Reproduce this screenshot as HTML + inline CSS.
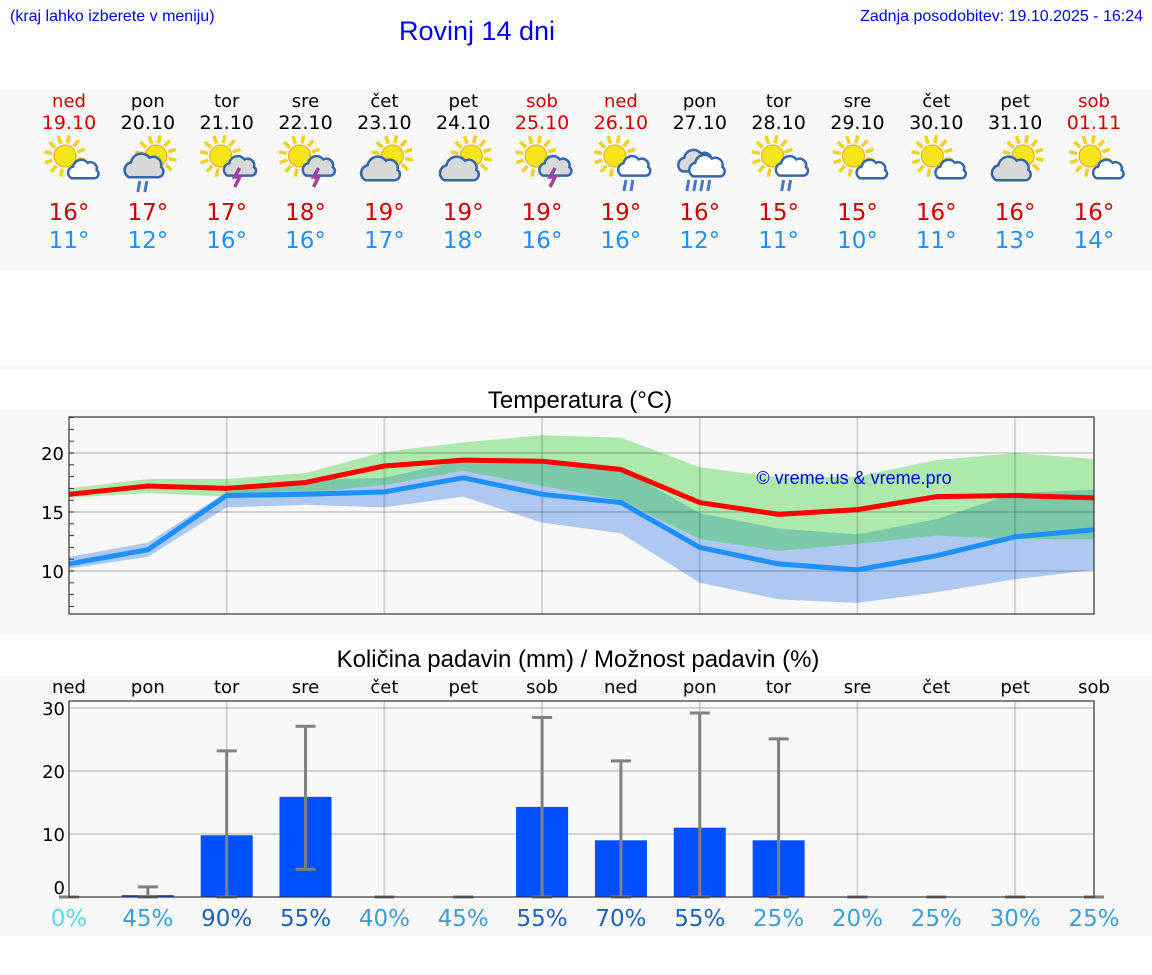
<!DOCTYPE html>
<html><head><meta charset="utf-8">
<style>
body{margin:0;background:#fff;width:1152px;height:975px;overflow:hidden;}
svg{display:block;}
</style></head>
<body>
<svg id="root" width="1152" height="975" xmlns="http://www.w3.org/2000/svg">
<rect x="0" y="90" width="1152" height="180" fill="#f8f8f8"/>
<rect x="0" y="365" width="1152" height="5" fill="#f8f8f8"/>
<rect x="0" y="410" width="1152" height="225" fill="#f8f8f8"/>
<rect x="0" y="675" width="1152" height="260" fill="#f8f8f8"/>
<text x="10" y="21" font-family="Liberation Sans, sans-serif" font-size="16" fill="#0000ee">(kraj lahko izberete v meniju)</text>
<text x="477" y="40" text-anchor="middle" font-family="Liberation Sans, sans-serif" font-size="27" fill="#0000ee">Rovinj 14 dni</text>
<text x="1143" y="21" text-anchor="end" font-family="Liberation Sans, sans-serif" font-size="16" fill="#0000ee">Zadnja posodobitev: 19.10.2025 - 16:24</text>
<g id="days"></g>
<text x="580" y="408" text-anchor="middle" font-family="Liberation Sans, sans-serif" font-size="24" fill="#000">Temperatura (°C)</text>
<g id="temp"></g>
<text x="578" y="667" text-anchor="middle" font-family="Liberation Sans, sans-serif" font-size="24" fill="#000">Količina padavin (mm) / Možnost padavin (%)</text>
<g id="prec"></g>
</svg>
<script>
const dayNames=["ned","pon","tor","sre","čet","pet","sob","ned","pon","tor","sre","čet","pet","sob"];
const dates=["19.10","20.10","21.10","22.10","23.10","24.10","25.10","26.10","27.10","28.10","29.10","30.10","31.10","01.11"];
const weekend=[1,0,0,0,0,0,1,1,0,0,0,0,0,1];
const iconTypes=["sc","sgr","st","st","sg","sg","st","sr","or","sr","sc","sc","sg","sc"];
const maxT=[16,17,17,18,19,19,19,19,16,15,15,16,16,16];
const minT=[11,12,16,16,17,18,16,16,12,11,10,11,13,14];
const tMax=[16.5,17.2,17.0,17.5,18.9,19.4,19.3,18.6,15.8,14.8,15.2,16.3,16.4,16.2];
const tMin=[10.6,11.8,16.4,16.5,16.7,17.9,16.5,15.8,12.0,10.6,10.1,11.3,12.9,13.5];
const gUp=[17.0,17.8,17.8,18.3,20.1,20.9,21.5,21.3,18.8,17.9,18.0,19.4,20.0,19.5];
const gLo=[16.2,16.6,16.3,16.6,17.3,18.5,17.2,16.0,12.7,11.7,12.3,13.0,12.7,12.7];
const bUp=[11.2,12.4,16.7,17.7,17.9,19.4,19.2,18.7,14.9,13.6,13.1,14.4,16.6,16.9];
const bLo=[10.2,11.2,15.4,15.6,15.4,16.3,14.1,13.2,9.0,7.6,7.3,8.2,9.3,10.1];
const tTicks=[10,15,20];
const rain=[0,0.3,9.8,15.9,0,0,14.3,9.0,11.0,9.0,0,0,0,0];
const rainHi=[0,1.6,23.2,27.1,0,0,28.5,21.6,29.2,25.1,0,0,0,0];
const rainLo=[0,0,0,4.4,0,0,0,0,0,0,0,0,0,0];
const chance=[0,45,90,55,40,45,55,70,55,25,20,25,30,25];
const pTicks=[0,10,20,30];
const NS="http://www.w3.org/2000/svg";
function mk(tag,attrs,parent,txt){const e=document.createElementNS(NS,tag);for(const k in attrs)e.setAttribute(k,attrs[k]);if(txt!==undefined)e.textContent=txt;parent.appendChild(e);return e;}
const X=i=>69+i*(1025/13);
const F='DejaVu Sans, Liberation Sans, sans-serif';
const days=document.getElementById('days');
function sun(g,cx,cy,r){for(let a=0;a<12;a++){const an=a*Math.PI/6+0.2;const l=mk('line',{x1:cx+Math.cos(an)*(r+2),y1:cy+Math.sin(an)*(r+2),x2:cx+Math.cos(an)*(r+10),y2:cy+Math.sin(an)*(r+10),stroke:'#f0d020','stroke-width':3.5},g);}
const c=mk('circle',{cx:cx,cy:cy,r:r,fill:'#f5e51a',stroke:'#f0a020','stroke-width':1},g);}
function cloud(g,cx,cy,s,fill){const p=mk('path',{d:`M${cx-14*s},${cy+8*s} a${7*s},${7*s} 0 0 1 ${2*s},${-13*s} a${9*s},${9*s} 0 0 1 ${16*s},${-4*s} a${7*s},${7*s} 0 0 1 ${10*s},${8*s} a${5*s},${5*s} 0 0 1 ${-2*s},${9*s} z`,fill:fill,stroke:'#3366aa','stroke-width':2.5},g);}
function drops(g,cx,cy,n){for(let k=0;k<n;k++){const l=mk('line',{x1:cx+k*7+2,y1:cy,x2:cx+k*7,y2:cy+11,stroke:'#4a78c0','stroke-width':3},g);}}
for(let i=0;i<14;i++){
 const x=X(i);const col=weekend[i]?'#cc0000':'#000';
 const g=mk('g',{},days);
 let t=mk('text',{x:x,y:107,'text-anchor':'middle','font-family':F,'font-size':18,fill:col},g,dayNames[i]);
 t=mk('text',{x:x,y:129,'text-anchor':'middle','font-family':F,'font-size':19,fill:col},g,dates[i]);
 const ig=mk('g',{},g);
 const ty=iconTypes[i];
 if(ty==='sc'){sun(ig,x-4,156,11);cloud(ig,x+15,171,0.9,'#fff');}
 else if(ty==='st'){sun(ig,x-6,156,11);cloud(ig,x+14,168,0.95,'#d8d8d8');const l=mk('path',{d:`M${x+13},${168} l-5,9 h5 l-5,10`,fill:'none',stroke:'#a040a0','stroke-width':3.5},ig);}
 else if(ty==='sg'){sun(ig,x+8,156,11);cloud(ig,x-3,171,1.15,'#d8d8d8');}
 else if(ty==='sgr'){sun(ig,x+8,156,11);cloud(ig,x-3,168,1.15,'#d8d8d8');drops(ig,x-10,181,2);}
 else if(ty==='sr'){sun(ig,x-6,156,11);cloud(ig,x+14,168,0.95,'#fff');drops(ig,x+3,180,2);}
 else if(ty==='or'){cloud(ig,x-3,163,1.05,'#d8d8d8');cloud(ig,x+8,168,1.05,'#fff');drops(ig,x-13,180,4);}
 t=mk('text',{x:x,y:220,'text-anchor':'middle','font-family':F,'font-size':23,fill:'#cc0000'},g,maxT[i]+'°');
 t=mk('text',{x:x,y:248,'text-anchor':'middle','font-family':F,'font-size':23,fill:'#1e90ff'},g,minT[i]+'°');
}
const tg=document.getElementById('temp');
const TL=69,TR=1094,TT=417,TB=614;
const TY=v=>453-(v-20)*11.8;
let e=mk('rect',{x:TL,y:TT,width:TR-TL,height:TB-TT,fill:'#f8f8f8'},tg);
function band(up,lo,fill,op,name){let d='';for(let i=0;i<14;i++)d+=(i?'L':'M')+X(i)+','+TY(up[i]);for(let i=13;i>=0;i--)d+='L'+X(i)+','+TY(lo[i]);const p=mk('path',{d:d+'Z',fill:fill,'fill-opacity':op},tg);}
band(bUp,bLo,'#aec8f2',1,'min-temp-range');
band(gUp,gLo,'rgb(23,203,23)',0.333,'max-temp-range');
for(const v of tTicks){e=mk('line',{x1:TL,x2:TR,y1:TY(v),y2:TY(v),stroke:'#000','stroke-opacity':0.15,'stroke-width':2},tg);
 e=mk('text',{x:TL-5,y:TY(v)+7,'text-anchor':'end','font-family':F,'font-size':18,fill:'#000'},tg,v);}
for(let v=7;v<=23;v++){e=mk('line',{x1:TL,x2:TL+5,y1:TY(v),y2:TY(v),stroke:'#333','stroke-width':1},tg);}
for(let i=2;i<14;i+=2){e=mk('line',{x1:X(i),x2:X(i),y1:TT,y2:TB,stroke:'#000','stroke-opacity':0.15,'stroke-width':2},tg);}
e=mk('text',{x:854,y:484,'text-anchor':'middle','font-family':'Liberation Sans, sans-serif','font-size':18,fill:'#0000ee'},tg,'© vreme.us & vreme.pro');
function line(arr,col,name){const p=mk('polyline',{points:arr.map((v,i)=>X(i)+','+TY(v)).join(' '),fill:'none',stroke:col,'stroke-width':5,'stroke-linejoin':'round'},tg);}
line(tMin,'#1e90ff','min-temp-line');
line(tMax,'#ff0000','max-temp-line');
e=mk('rect',{x:TL,y:TT,width:TR-TL,height:TB-TT,fill:'none',stroke:'#333','stroke-width':1.2},tg);
const pg=document.getElementById('prec');
const PT=701,PB=897;
const PY=v=>897-v*6.3;
for(const v of pTicks){if(v>0){e=mk('line',{x1:TL,x2:TR,y1:PY(v),y2:PY(v),stroke:'#000','stroke-opacity':0.15,'stroke-width':2},pg);}
 e=mk('text',{x:TL-4,y:(v===0?PY(v)-10:PY(v))+7,'text-anchor':'end','font-family':F,'font-size':18,fill:'#000'},pg,v);}
for(let i=2;i<14;i+=2){e=mk('line',{x1:X(i),x2:X(i),y1:PT,y2:PB,stroke:'#000','stroke-opacity':0.15,'stroke-width':2},pg);}
for(let i=0;i<14;i++){const x=X(i);
 e=mk('text',{x:x,y:693,'text-anchor':'middle','font-family':F,'font-size':18,fill:'#000'},pg,dayNames[i]);
 if(rain[i]>0){e=mk('rect',{x:x-26,y:PY(rain[i]),width:52,height:PB-PY(rain[i]),fill:'#0050ff'},pg);}
 e=mk('line',{x1:x,x2:x,y1:PY(rainHi[i]),y2:PY(rainLo[i]),stroke:'#808080','stroke-width':3},pg);
 e=mk('line',{x1:x-10,x2:x+10,y1:PY(rainHi[i]),y2:PY(rainHi[i]),stroke:'#808080','stroke-width':3},pg);
 e=mk('line',{x1:x-10,x2:x+10,y1:PY(rainLo[i]),y2:PY(rainLo[i]),stroke:'#808080','stroke-width':3},pg);
 const c=chance[i];const col=c===0?'#5bd8e6':(c>=55?'#1c62b8':'#3a9fd8');
 e=mk('text',{x:x,y:926,'text-anchor':'middle','font-family':F,'font-size':23,fill:col},pg,c+'%');
}
e=mk('rect',{x:TL,y:PT,width:TR-TL,height:PB-PT,fill:'none',stroke:'#333','stroke-width':1.2},pg);
</script>
</body></html>
